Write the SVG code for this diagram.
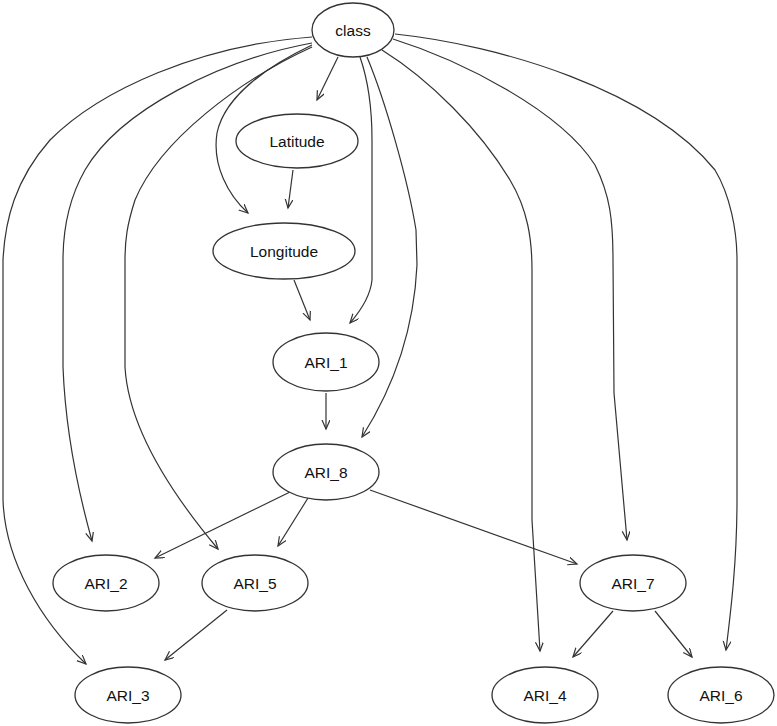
<svg xmlns="http://www.w3.org/2000/svg" width="777" height="726" viewBox="0 0 777 726">
<defs>
<marker id="arr" markerUnits="userSpaceOnUse" markerWidth="12" markerHeight="10" refX="9" refY="4" orient="auto">
<path d="M0,0 L9,4 L0,8" fill="none" stroke="#333" stroke-width="1.2"/>
</marker>
<style>
.node ellipse{fill:#fff;stroke:#333;stroke-width:1.3}
.node text{font-family:"Liberation Sans",Arial,sans-serif;font-size:15.5px;fill:#111;text-anchor:middle}
#edges path{fill:none;stroke:#333;stroke-width:1.2;marker-end:url(#arr)}
</style>
</defs>
<rect width="777" height="726" fill="#fff"/>
<g id="edges">
<path d="M395,34 C500,45 650,90 715,170 C730,195 737,230 737,260 L737,500 C737,560 731,610 726,650"/>
<path d="M393,39 C460,60 560,110 595,165 C610,195 613,220 613,260 L614,393 L627,540"/>
<path d="M382,50 C430,80 480,130 510,180 C528,210 532,240 532,270 L532,520 L540,651"/>
<path d="M367,57 C385,100 408,180 416,230 L417,265 C414,330 395,385 362,437"/>
<path d="M360,57 C368,80 372,110 372,140 L372,280 Q370,300 350,323"/>
<path d="M338,57 L317,100"/>
<path d="M312,45 C270,65 225,95 217,133 C212,165 228,195 248,213"/>
<path d="M312,47 C240,80 160,140 135,200 C127,225 125,240 125,260 L125,367 C128,420 160,480 218,549"/>
<path d="M312,43 C220,60 120,110 85,170 C68,200 63,230 63,260 L63,367 C65,420 75,480 92,541"/>
<path d="M312,37 C200,45 100,90 50,140 C15,180 5,220 3,260 L3,500 C5,560 40,620 86,664"/>
<path d="M293,170 L288,208"/>
<path d="M294,280 L310,320"/>
<path d="M326,393 L326,429"/>
<path d="M290,492 L155,558"/>
<path d="M308,498 L278,546"/>
<path d="M370,490 L577,564"/>
<path d="M227,610 L165,660"/>
<path d="M613,611 L573,657"/>
<path d="M655,611 L692,657"/>
</g>
<g id="class" class="node"><ellipse cx="353" cy="30" rx="41" ry="27"/><text x="353" y="36">class</text></g>
<g id="Latitude" class="node"><ellipse cx="297" cy="141" rx="61" ry="27"/><text x="297" y="147">Latitude</text></g>
<g id="Longitude" class="node"><ellipse cx="284" cy="251" rx="71" ry="28"/><text x="284" y="257">Longitude</text></g>
<g id="ARI_1" class="node"><ellipse cx="326" cy="362" rx="53" ry="29"/><text x="326" y="368">ARI_1</text></g>
<g id="ARI_8" class="node"><ellipse cx="326" cy="472" rx="53" ry="28"/><text x="326" y="478">ARI_8</text></g>
<g id="ARI_2" class="node"><ellipse cx="106" cy="583" rx="53" ry="28"/><text x="106" y="589">ARI_2</text></g>
<g id="ARI_5" class="node"><ellipse cx="255" cy="583" rx="53" ry="28"/><text x="255" y="589">ARI_5</text></g>
<g id="ARI_7" class="node"><ellipse cx="633" cy="583" rx="53" ry="28"/><text x="633" y="589">ARI_7</text></g>
<g id="ARI_3" class="node"><ellipse cx="128" cy="695" rx="53" ry="28"/><text x="128" y="701">ARI_3</text></g>
<g id="ARI_4" class="node"><ellipse cx="545" cy="695" rx="53" ry="28"/><text x="545" y="701">ARI_4</text></g>
<g id="ARI_6" class="node"><ellipse cx="721" cy="695" rx="53" ry="28"/><text x="721" y="701">ARI_6</text></g>
</svg>
